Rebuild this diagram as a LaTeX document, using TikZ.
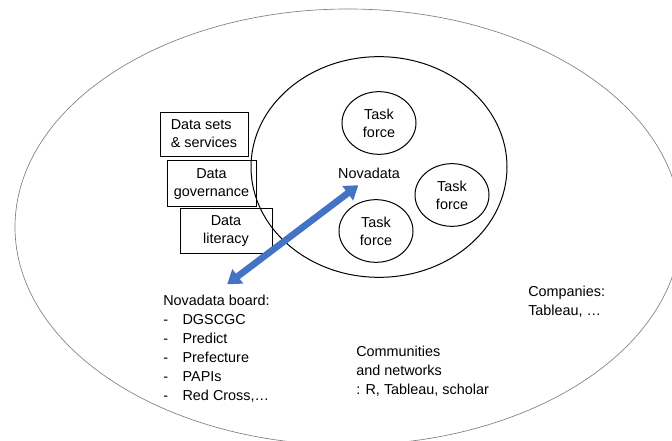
\documentclass[tikz,border=0pt]{standalone}
\usepackage{fontspec}
\setmainfont{Liberation Sans}
\usetikzlibrary{shapes.geometric, arrows.meta}
\definecolor{novablue}{HTML}{4472C4}
\newcommand{\boarditem}[1]{\makebox[14.5pt][l]{-}#1}

\begin{document}
\begin{tikzpicture}[x=0.75pt, y=-0.75pt,
        lbl/.style={inner sep=0pt, align=left, font=\fontsize{10.8}{14.2}\selectfont},
        taskforce/.style={ellipse, draw, line width=0.75pt, minimum width=55.5pt, minimum height=47pt,
            inner sep=0pt, align=center, font=\fontsize{10.8}{13.5}\selectfont},
        pillar/.style={draw, line width=0.75pt, inner sep=0pt, align=center, font=\fontsize{10.8}{13.5}\selectfont},
        board arrow/.style={novablue, line width=5pt, {Triangle[length=10pt, width=13pt]}-{Triangle[length=10pt, width=13pt]}}]
        \useasboundingbox (0,0) rectangle (672,441);

        % ecosystem
        \begin{scope}
            \clip (0,0) rectangle (672,441);
            \draw [gray, line width=0.5pt] (348,227) ellipse [x radius=333, y radius=218];
        \end{scope}

        % Novadata core and its task forces
        \node [ellipse, draw, line width=0.75pt, minimum width=192pt, minimum height=165.5pt] (core) at (379,167) {};
        \node [lbl] (nova) at (369,173) {Novadata};
        \node [taskforce] (tf1) at (379,123) {Task\\force};
        \node [taskforce] (tf2) at (452,195) {Task\\force};
        \node [taskforce] (tf3) at (376,231) {Task\\force};

        % pillars
        \node [pillar, minimum width=66pt, minimum height=33pt] (sets) at (204,135) {\begin{tabular}{@{}l@{}}Data sets\\\& services\end{tabular}};
        \node [pillar, minimum width=66.75pt, minimum height=34.5pt] (gov) at (211.5,184) {Data\\governance};
        \node [pillar, minimum width=69pt, minimum height=33.75pt] (lit) at (226,231.5) {Data\\literacy};

        % partners
        \node [lbl, anchor=north west] (board) at (163,295) {Novadata board:\\
            \boarditem{DGSCGC}\\\boarditem{Predict}\\\boarditem{Prefecture}\\\boarditem{PAPIs}\\\boarditem{Red Cross,…}};
        \node [lbl, anchor=north west] (comm) at (356,346) {Communities\\and networks\\: R, Tableau, scholar};
        \node [lbl, anchor=north west] (comp) at (528,286) {Companies:\\Tableau, …};

        \draw [board arrow] ([xshift=8pt, yshift=8pt]board.north) -- ([xshift=-8pt, yshift=-5pt]nova.south);
    \end{tikzpicture}
\end{document}
